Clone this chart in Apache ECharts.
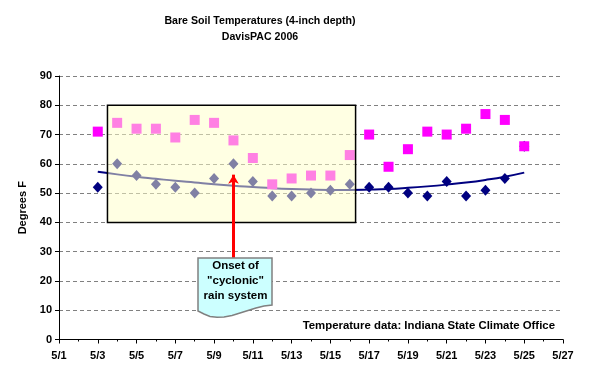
<!DOCTYPE html>
<html>
<head>
<meta charset="utf-8">
<script src="https://cdn.jsdelivr.net/npm/echarts@6/dist/echarts.min.js"></script>
<style>
html,body{margin:0;padding:0;background:#fff;}
#c{width:590px;height:381px;}
</style>
</head>
<body>
<div id="c"></div>
<script>
// ---- data ----
const dates = ['5/3','5/4','5/5','5/6','5/7','5/8','5/9','5/10','5/11','5/12','5/13','5/14','5/15','5/16','5/17','5/18','5/19','5/20','5/21','5/22','5/23','5/24','5/25'];
const maxTemp = [71,74,72,72,69,75,74,68,62,53,55,56,56,63,70,59,65,71,70,72,77,75,66];
const minTemp = [52,60,56,53,52,50,55,60,54,49,49,50,51,53,52,52,50,49,54,49,51,55,66];
const trendMin = [57.3,56.4,55.6,54.9,54.2,53.6,53.0,52.5,52.1,51.7,51.4,51.2,51.1,51.1,51.2,51.4,51.8,52.3,52.9,53.6,54.5,55.6,57.0];
const xTicks = ['5/1','5/3','5/5','5/7','5/9','5/11','5/13','5/15','5/17','5/19','5/21','5/23','5/25','5/27'];
const yTicks = [0,10,20,30,40,50,60,70,80,90];
// highlighted period box (day of May, degrees)
const boxDays = [3.5, 16.3];
const boxTemps = [40, 80];
// arrow: day, from temp, to temp
const arrowDay = 10, arrowFrom = 27.9, arrowTo = 56.3;

// x position = day of month minus 1 (so 5/1 -> 0)
const dayOf = s => parseInt(s.split('/')[1], 10);
const xOf = s => dayOf(s) - 1;
const pts = arr => dates.map((d, i) => [xOf(d), arr[i]]);

const F = 'Liberation Sans, Arial, sans-serif';
const chart = echarts.init(document.getElementById('c'), null, {renderer: 'canvas'});
const option = {
  animation: false,
  backgroundColor: '#ffffff',
  title: [
    {text: 'Bare Soil Temperatures (4-inch depth)', left: 260, top: 16, padding: 0, textAlign: 'center',
     textStyle: {fontFamily: F, fontSize: 10.6, fontWeight: 'bold', color: '#000'}},
    {text: 'DavisPAC 2006', left: 260, top: 31.5, padding: 0, textAlign: 'center',
     textStyle: {fontFamily: F, fontSize: 10.6, fontWeight: 'bold', color: '#000'}}
  ],
  grid: {left: 59, top: 76, width: 504, height: 263.5, containLabel: false},
  xAxis: {
    type: 'value', min: 0, max: xOf(xTicks[xTicks.length - 1]), interval: 2,
    axisLine: {lineStyle: {color: '#000', width: 1}},
    axisTick: {show: true, length: 4, lineStyle: {color: '#000'}},
    minorTick: {show: true, splitNumber: 2, length: 2, lineStyle: {color: '#000'}},
    splitLine: {show: false},
    axisLabel: {formatter: v => xTicks[v / 2] || '', color: '#000', fontFamily: F, fontSize: 11, fontWeight: 'bold', margin: 11}
  },
  yAxis: {
    type: 'value', min: yTicks[0], max: yTicks[yTicks.length - 1], interval: 10,
    name: 'Degrees F', nameLocation: 'middle', nameGap: 23, nameRotate: 90,
    nameTextStyle: {color: '#000', fontFamily: F, fontSize: 11, fontWeight: 'bold'},
    axisLine: {show: true, lineStyle: {color: '#000', width: 1}},
    axisTick: {show: true, length: 4, lineStyle: {color: '#000'}},
    splitLine: {show: true, lineStyle: {color: '#808080', type: [4, 3], width: 1}},
    axisLabel: {color: '#000', fontFamily: F, fontSize: 11, fontWeight: 'bold', margin: 7}
  },
  series: [
    {
      name: 'Min', type: 'scatter', symbol: 'diamond', symbolSize: [10, 11], z: 2,
      itemStyle: {color: '#000080', opacity: 1}, data: pts(minTemp)
    },
    {
      name: 'Max', type: 'scatter', symbol: 'rect', symbolSize: 10, z: 3,
      itemStyle: {color: '#FF00FF', opacity: 1}, data: pts(maxTemp)
    },
    {
      name: 'Trend', type: 'line', smooth: true, showSymbol: false, symbol: 'none', z: 3,
      lineStyle: {color: '#000080', width: 2}, data: pts(trendMin)
    },
    {
      name: 'Box', type: 'line', data: [], z: 10,
      markArea: {
        silent: true, z: 10,
        itemStyle: {color: 'rgba(255,255,200,0.5)', borderColor: '#000', borderWidth: 1.5},
        data: [[{coord: [boxDays[0] - 1, boxTemps[1]]}, {coord: [boxDays[1] - 1, boxTemps[0]]}]]
      }
    },
    {
      name: 'Arrow', type: 'line', data: [], z: 12,
      markLine: {
        silent: true, z: 12, symbol: ['none', 'arrow'], symbolSize: [8, 9],
        label: {show: false},
        lineStyle: {color: '#FF0000', width: 3, type: 'solid'},
        data: [[{coord: [arrowDay - 1, arrowFrom]}, {coord: [arrowDay - 1, arrowTo]}]]
      }
    }
  ],
  graphic: [
    {
      type: 'polygon', z: 100,
      shape: {points: [[198,258],[272,258],[272,305],[264,306],[256,308],[248,310.5],[240,313],[232,315.5],[224,317],[217,317.3],[210,316.5],[204,314],[198,311]]},
      style: {fill: '#CCFFFF', stroke: '#808080', lineWidth: 1.5}
    },
    {type: 'text', z: 101, x: 235.5, y: 266, style: {text: 'Onset of', fill: '#000', font: 'bold 11.5px ' + F, textAlign: 'center', textVerticalAlign: 'middle'}},
    {type: 'text', z: 101, x: 235.5, y: 281, style: {text: '"cyclonic"', fill: '#000', font: 'bold 11.5px ' + F, textAlign: 'center', textVerticalAlign: 'middle'}},
    {type: 'text', z: 101, x: 235.5, y: 296, style: {text: 'rain system', fill: '#000', font: 'bold 11.5px ' + F, textAlign: 'center', textVerticalAlign: 'middle'}},
    {type: 'text', z: 101, x: 555, y: 326, style: {text: 'Temperature data: Indiana State Climate Office', fill: '#000', font: 'bold 11.4px ' + F, textAlign: 'right', textVerticalAlign: 'middle'}}
  ]
};
chart.setOption(option);
</script>
</body>
</html>
